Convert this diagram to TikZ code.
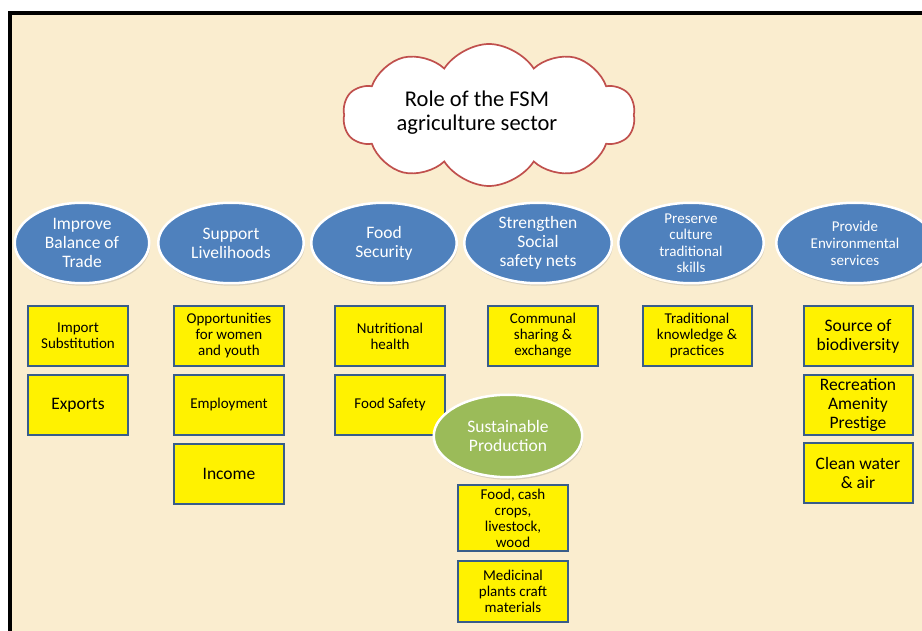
\documentclass[tikz,border=0pt]{standalone}
\usepackage{fontspec}
\setmainfont{Carlito}
\usetikzlibrary{positioning,shapes.geometric,shapes.symbols,shadows}
\definecolor{Parchment}{RGB}{250,237,207}
\definecolor{GoalBlue}{RGB}{79,129,189}
\definecolor{GoalGreen}{RGB}{155,187,89}
\definecolor{BoxEdge}{RGB}{56,93,138}
\definecolor{CloudRed}{RGB}{192,80,77}

\begin{document}
\begin{tikzpicture}[x=1pt,y=-1pt,
       every node/.style={font=\fontsize{15}{16}\selectfont, align=center},
       bigtext/.style={font=\fontsize{17.5}{19}\selectfont},
       goalellipse/.style 2 args={ellipse, minimum width=#1, minimum height=80.5pt,
                                  inner xsep=0pt, inner ysep=-8pt,
                                  line width=2.5pt, draw=white, fill=#2, text=white,
                                  drop shadow={opacity=0.25, shadow xshift=1pt, shadow yshift=-2.5pt},
                                  font=\fontsize{17.5}{19}\selectfont},
       itembox/.style={rectangle, minimum width=#1, minimum height=60pt, inner sep=0pt,
                       line width=2pt, draw=BoxEdge, fill=yellow},
       itembox/.default=110pt]
	%% Page and frame
	\clip (0,0) rectangle (922,631);
	\fill[white] (0,0) rectangle (922,631);
	\fill[Parchment] (8,11) rectangle (922,631);
	\draw[line width=4pt] (10,700) -- (10,13) -- (930,13);

	%% Title cloud
	\node [cloud, cloud puffs=10, cloud puff arc=115, aspect=2, inner sep=0pt,
	       draw=CloudRed, line width=1.7pt, fill=white,
	       minimum width=292pt, minimum height=142pt,
	       label={[xshift=-12pt,yshift=2pt,font=\fontsize{22.5}{24}\selectfont]center:{Role of the FSM\\agriculture sector}}] (role) at (489,115) {};

	%% Roles
	\node [goalellipse={134.5pt}{GoalBlue}] (trade) at (82,243) {Improve\\Balance of\\Trade};
	\node [goalellipse={145.5pt}{GoalBlue}] (liveli) at (231,243) {Support\\Livelihoods};
	\node [goalellipse={145.5pt}{GoalBlue}] (foodsec) at (384,243) {Food\\Security};
	\node [goalellipse={147.5pt}{GoalBlue}] (social) at (538,243) {Strengthen\\Social\\safety nets};
	\node [goalellipse={145.5pt}{GoalBlue},font=\fontsize{15}{16.5}\selectfont] (culture) at (691,243) {Preserve\\culture\\traditional\\skills};
	\node [goalellipse={157.5pt}{GoalBlue},font=\fontsize{15}{17}\selectfont] (environ) at (855,243) {Provide\\Environmental\\services};

	%% Trade
	\node [itembox=100pt] (import) at (78,336) {Import\\Substitution};
	\node [itembox=100pt,bigtext,below=7pt of import] (exports) {Exports};
	%% Livelihoods
	\node [itembox] (women) at (229,336) {Opportunities\\for women\\and youth};
	\node [itembox,below=7pt of women] (employ) {Employment};
	\node [itembox,bigtext,below=7pt of employ] (income) {Income};
	%% Food security
	\node [itembox] (nutrition) at (390,336) {Nutritional\\health};
	\node [itembox,below=7pt of nutrition] (safety) {Food Safety};
	%% Safety nets and culture
	\node [itembox] (communal) at (543,336) {Communal\\sharing \&\\exchange};
	\node [itembox=109pt] (knowledge) at (697,336) {Traditional\\knowledge \&\\practices};
	%% Environment
	\node [itembox=109pt,bigtext] (biodiv) at (858,336) {Source of\\biodiversity};
	\node [itembox=109pt,bigtext,below=7pt of biodiv] (amenity) {Recreation\\Amenity\\Prestige};
	\node [itembox=109pt,bigtext,below=6pt of amenity] (cleanair) {Clean water\\\& air};

	%% Sustainable production
	\node [goalellipse={148.5pt}{GoalGreen},minimum height=82.5pt] (sustain) at (508,436) {Sustainable\\Production};
	\node [itembox,minimum height=66pt] (crops) at (513,518) {Food, cash\\crops,\\livestock,\\wood};
	\node [itembox,minimum height=61pt,below=8pt of crops] (medicinal) {Medicinal\\plants craft\\materials};
\end{tikzpicture}
\end{document}
